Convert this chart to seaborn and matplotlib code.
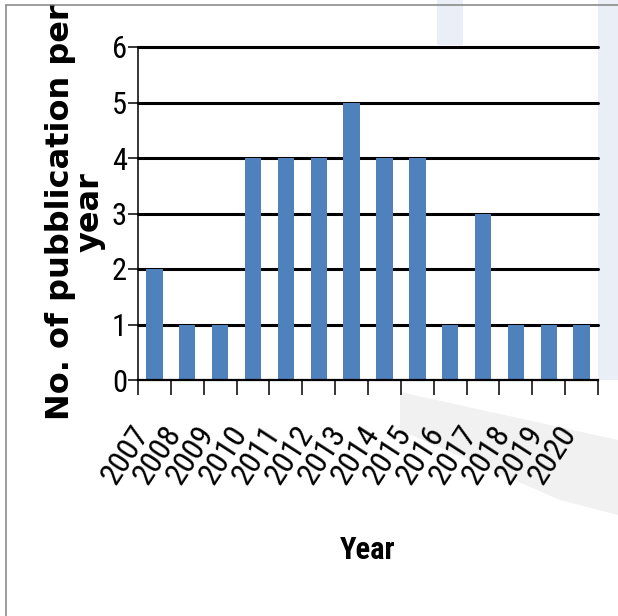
import matplotlib
matplotlib.use("Agg")
import matplotlib.pyplot as plt
import seaborn as sns
import pandas as pd
from matplotlib.lines import Line2D
from matplotlib.patches import Polygon, Rectangle
from matplotlib import font_manager as fm

# Publications per year
years = ["2007", "2008", "2009", "2010", "2011", "2012", "2013",
         "2014", "2015", "2016", "2017", "2018", "2019", "2020"]
counts = [2, 1, 1, 4, 4, 4, 5, 4, 4, 1, 3, 1, 1, 1]
y_ticks = [0, 1, 2, 3, 4, 5, 6]


def find_narrow(weight):
    """Return a condensed/narrow sans font file of the given weight."""
    best, best_score = None, -1
    for f in fm.fontManager.ttflist:
        fn = f.fname.lower().split("/")[-1]
        if not ("narrow" in fn or "condensed" in fn):
            continue
        if any(k in fn for k in ("italic", "oblique", "mono", "semi",
                                 "extra", "black", "thin", "medium")):
            continue
        score = 0
        if weight == "bold":
            if "bold" not in fn:
                continue
            score = 1
        else:
            if "bold" in fn:
                continue
            if "regular" in fn:
                score = 2
            elif "light" not in fn:
                score = 1
        if "liberation" in fn:
            score += 4
        elif "roboto" in fn:
            score += 2
        if score > best_score:
            best, best_score = f.fname, score
    return best


sns.set_theme(style="white")
plt.rcParams["font.family"] = ["DejaVu Sans"]
plt.rcParams["text.color"] = "black"
plt.rcParams["xtick.color"] = "black"
plt.rcParams["ytick.color"] = "black"

narrow_reg = find_narrow("regular")
narrow_bold = find_narrow("bold")
tick_fp = (fm.FontProperties(fname=narrow_reg) if narrow_reg
           else fm.FontProperties(family="DejaVu Sans", stretch="condensed"))
title_fp = (fm.FontProperties(fname=narrow_bold) if narrow_bold
            else fm.FontProperties(family="DejaVu Sans", weight="bold",
                                   stretch="condensed"))

W, H = 618, 616
fig = plt.figure(figsize=(W / 100, H / 100), dpi=100)
fig.patch.set_facecolor("white")


def px(x, y):
    return (x / W, 1 - y / H)


# faint background emblem shapes
bg = [
    (Polygon([px(400, 392), px(618, 440), px(618, 515), px(560, 500),
              px(400, 430)]), "#f1f1f1"),
    (Rectangle(px(598, 380), 20 / W, 380 / H), "#eaeef7"),
    (Rectangle(px(437, 45), 26 / W, 45 / H), "#eaeef7"),
]
for patch, col in bg:
    patch.set_facecolor(col)
    patch.set_edgecolor("none")
    patch.set_transform(fig.transFigure)
    patch.set_zorder(-5)
    fig.add_artist(patch)

ax = fig.add_axes([138 / W, 1 - 380 / H, 460 / W, 333 / H])
ax.set_facecolor("white")
df = pd.DataFrame({"Year": years, "Count": counts})
sns.barplot(data=df, x="Year", y="Count", color="#4F81BD", saturation=1,
            width=0.5, ax=ax, zorder=3, linewidth=0)

ax.set_xlim(-0.5, len(years) - 0.5)
ax.set_ylim(0, 6)
ax.set_yticks(y_ticks)
ax.set_xlabel("")
ax.set_ylabel("")

# horizontal black gridlines
for v in y_ticks[1:]:
    ax.axhline(v, color="black", lw=2.2, zorder=1, clip_on=False)

for s in ("top", "right"):
    ax.spines[s].set_visible(False)
ax.spines["left"].set_color("black")
ax.spines["left"].set_linewidth(1.1)
ax.spines["bottom"].set_color("black")
ax.spines["bottom"].set_linewidth(1.6)
ax.spines["bottom"].set_zorder(4)

# category separators as minor ticks below the axis
ax.set_xticks([i - 0.5 for i in range(len(years) + 1)], minor=True)
ax.tick_params(axis="x", which="minor", direction="out", length=11,
               width=1.1, color="black", bottom=True)
ax.tick_params(axis="x", which="major", length=0, pad=29)
ax.tick_params(axis="y", which="major", direction="out", length=7,
               width=1.1, color="black", left=True, pad=1)
for lab in ax.get_xticklabels():
    lab.set_fontproperties(tick_fp)
    lab.set_fontsize(23)
    lab.set_rotation(57)
    lab.set_ha("right")
    lab.set_va("top")
for lab in ax.get_yticklabels():
    lab.set_fontproperties(tick_fp)
    lab.set_fontsize(22)

fig.text(75 / W, 1 - 212 / H, "No. of pubblication per\nyear",
         rotation=90, ha="center", va="center", multialignment="center",
         fontsize=23, fontweight="bold", family="DejaVu Sans",
         linespacing=0.95)
year_lab = fig.text(368 / W, 1 - 550 / H, "Year", ha="center", va="center",
                    fontproperties=title_fp)
year_lab.set_fontsize(22)

# thin frame around the figure
fig.add_artist(Line2D([6 / W, 6 / W], [0, 1 - 5 / H], color="#8c8c8c",
                      lw=1.2, transform=fig.transFigure))
fig.add_artist(Line2D([6 / W, 1], [1 - 5 / H, 1 - 5 / H], color="#8c8c8c",
                      lw=1.2, transform=fig.transFigure))

fig.savefig("out.png", dpi=100)
